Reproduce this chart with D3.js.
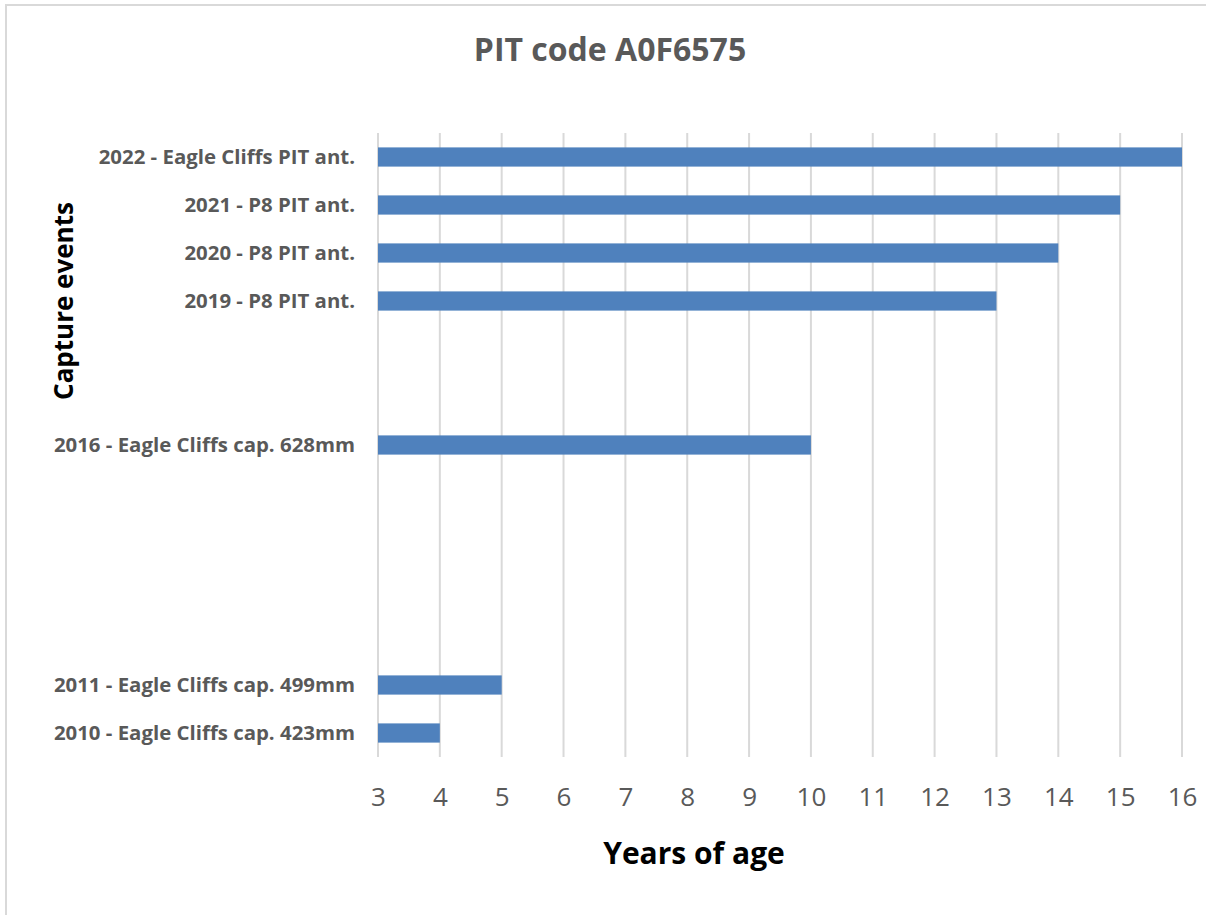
<!DOCTYPE html>
<html>
<head>
<meta charset="utf-8">
<script src="https://cdn.jsdelivr.net/npm/d3@7"></script>
<style>
  html, body { margin: 0; padding: 0; background: #ffffff; }
  svg { display: block; }
</style>
</head>
<body>
<svg id="chart" width="1206" height="915"></svg>
<script>
// Capture history for one tagged fish: year of each event, its description and the fish's age.
const years = [2022, 2021, 2020, 2019, 2018, 2017, 2016, 2015, 2014, 2013, 2012, 2011, 2010];
const eventLabels = [
  "2022 - Eagle Cliffs PIT ant.",
  "2021 - P8 PIT ant.",
  "2020 - P8 PIT ant.",
  "2019 - P8 PIT ant.",
  "", "",
  "2016 - Eagle Cliffs cap. 628mm",
  "", "", "", "",
  "2011 - Eagle Cliffs cap. 499mm",
  "2010 - Eagle Cliffs cap. 423mm"
];
const ages = [16, 15, 14, 13, null, null, 10, null, null, null, null, 5, 4];
const ageTicks = [3, 4, 5, 6, 7, 8, 9, 10, 11, 12, 13, 14, 15, 16];

const titleText = "PIT code A0F6575";
const xTitle = "Years of age";
const yTitle = "Capture events";

const rows = years.map((y, i) => ({ year: y, label: eventLabels[i], age: ages[i] }));

const svg = d3.select("#chart");
const plot = { left: 378, right: 1182, top: 133, bottom: 757 };

// Chart-area frame
svg.append("rect")
  .attr("x", 6).attr("y", 5)
  .attr("width", 1300).attr("height", 1000)
  .attr("fill", "#ffffff")
  .attr("stroke", "#d9d9d9")
  .attr("stroke-width", 2);

const x = d3.scaleLinear().domain([3, 16]).range([plot.left, plot.right]);
const y = d3.scaleBand()
  .domain(years)
  .range([plot.top, plot.bottom])
  .paddingInner(0.6)
  .paddingOuter(0.3);

// Vertical gridlines
svg.append("g")
  .selectAll("line")
  .data(ageTicks)
  .join("line")
  .attr("x1", d => x(d)).attr("x2", d => x(d))
  .attr("y1", plot.top).attr("y2", plot.bottom)
  .attr("stroke", "#d9d9d9")
  .attr("stroke-width", 2);

// Bars
svg.append("g")
  .selectAll("rect")
  .data(rows.filter(d => d.age != null))
  .join("rect")
  .attr("x", x(3))
  .attr("y", d => y(d.year))
  .attr("width", d => x(d.age) - x(3))
  .attr("height", y.bandwidth())
  .attr("fill", "#4f81bd");

// X axis tick labels
const xAxis = d3.axisBottom(x).tickValues(ageTicks).tickSize(0).tickPadding(0).tickFormat(d3.format("d"));
const gx = svg.append("g").attr("transform", `translate(0, ${plot.bottom + 30})`).call(xAxis);
gx.select(".domain").remove();
gx.selectAll("text")
  .attr("dy", "0.35em")
  .attr("y", 10)
  .style("font-family", "'Open Sans', sans-serif")
  .style("font-size", "26px")
  .attr("fill", "#595959");

// Y axis category labels
const yAxis = d3.axisLeft(y).tickSize(0).tickPadding(0)
  .tickFormat(d => rows.find(r => r.year === d).label);
const gy = svg.append("g").attr("transform", `translate(${plot.left - 23}, 0)`).call(yAxis);
gy.select(".domain").remove();
gy.selectAll("text")
  .style("font-family", "'Open Sans', sans-serif")
  .style("font-size", "20.4px")
  .style("font-weight", "bold")
  .attr("fill", "#595959");

// Titles
svg.append("text")
  .attr("x", 610).attr("y", 48)
  .attr("text-anchor", "middle").attr("dominant-baseline", "central")
  .style("font-family", "'Open Sans', sans-serif")
  .style("font-size", "32px").style("font-weight", "bold")
  .attr("fill", "#595959")
  .text(titleText);

svg.append("text")
  .attr("x", 694).attr("y", 852)
  .attr("text-anchor", "middle").attr("dominant-baseline", "central")
  .style("font-family", "'Open Sans', sans-serif")
  .style("font-size", "30px").style("font-weight", "bold")
  .attr("fill", "#000000")
  .text(xTitle);

svg.append("text")
  .attr("transform", "translate(63, 301) rotate(-90)")
  .attr("text-anchor", "middle").attr("dominant-baseline", "central")
  .style("font-family", "'Open Sans', sans-serif")
  .style("font-size", "26px").style("font-weight", "bold")
  .attr("fill", "#000000")
  .text(yTitle);
</script>
</body>
</html>
